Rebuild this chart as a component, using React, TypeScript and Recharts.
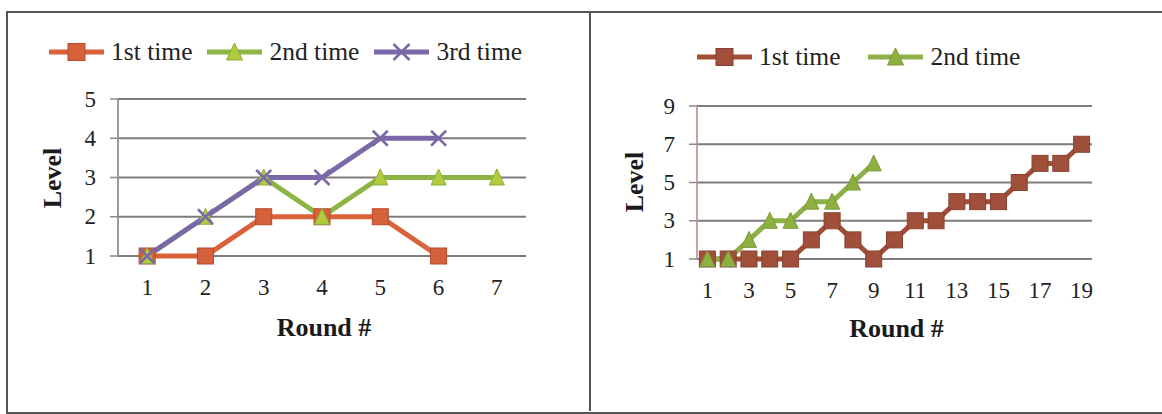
import React from "react";
import { LineChart, Line, XAxis, YAxis, CartesianGrid, Legend } from "recharts";

// ---------- data: left chart ----------
const leftRounds = [1, 2, 3, 4, 5, 6, 7];
const left1st = [1, 1, 2, 2, 2, 1, null];
const left2nd = [1, 2, 3, 2, 3, 3, 3];
const left3rd = [1, 2, 3, 3, 4, 4, null];
const leftLevelTicks = [1, 2, 3, 4, 5];
const leftRoundTicks = [1, 2, 3, 4, 5, 6, 7];

// ---------- data: right chart ----------
const rightRounds = [1, 2, 3, 4, 5, 6, 7, 8, 9, 10, 11, 12, 13, 14, 15, 16, 17, 18, 19];
const right1st = [1, 1, 1, 1, 1, 2, 3, 2, 1, 2, 3, 3, 4, 4, 4, 5, 6, 6, 7];
const right2nd = [1, 1, 2, 3, 3, 4, 4, 5, 6, null, null, null, null, null, null, null, null, null, null];
const rightLevelTicks = [1, 3, 5, 7, 9];
const rightRoundTicks = [1, 3, 5, 7, 9, 11, 13, 15, 17, 19];

const leftData = leftRounds.map((r, i) => ({ round: r, t1: left1st[i], t2: left2nd[i], t3: left3rd[i] }));
const rightData = rightRounds.map((r, i) => ({ round: r, t1: right1st[i], t2: right2nd[i] }));

const SERIF = "'Liberation Serif', 'Times New Roman', serif";
const GRID = "#7c7c7c";

type MarkerKind = "square" | "triangle" | "cross";

function Marker({ kind, cx, cy, fill, stroke, size }: any) {
  if (cx == null || cy == null || isNaN(cy)) return <g />;
  const h = size / 2;
  if (kind === "square")
    return <rect x={cx - h} y={cy - h} width={size} height={size} fill={fill} stroke={stroke} strokeWidth={1} />;
  if (kind === "triangle")
    return (
      <polygon
        points={`${cx},${cy - h - 1} ${cx - h},${cy + h} ${cx + h},${cy + h}`}
        fill={fill}
        stroke={stroke}
        strokeWidth={1}
      />
    );
  return (
    <g stroke={stroke} strokeWidth={2.5}>
      <line x1={cx - h} y1={cy - h} x2={cx + h} y2={cy + h} />
      <line x1={cx - h} y1={cy + h} x2={cx + h} y2={cy - h} />
    </g>
  );
}

const makeDot = (kind: MarkerKind, fill: string, stroke: string, size: number) => (p: any) => (
  <Marker key={`d-${kind}-${p.index}`} kind={kind} cx={p.cx} cy={p.cy} fill={fill} stroke={stroke} size={size} />
);

type SeriesCfg = { key: string; name: string; color: string; fill: string; edge: string; kind: MarkerKind; size: number };

const leftSeries: SeriesCfg[] = [
  { key: "t1", name: "1st time", color: "#D9623A", fill: "#D5603C", edge: "#B84A2C", kind: "square", size: 16 },
  { key: "t2", name: "2nd time", color: "#8DB545", fill: "#B2CC3E", edge: "#86AE3C", kind: "triangle", size: 15 },
  { key: "t3", name: "3rd time", color: "#7B68A8", fill: "#7B68A8", edge: "#6E5C9C", kind: "cross", size: 15 },
];
const rightSeries: SeriesCfg[] = [
  { key: "t1", name: "1st time", color: "#A34F37", fill: "#A0503A", edge: "#8A4030", kind: "square", size: 16 },
  { key: "t2", name: "2nd time", color: "#8EB048", fill: "#8DB040", edge: "#7A9A38", kind: "triangle", size: 15 },
];

const makeLegend = (series: SeriesCfg[], gap: number) => () => (
  <div style={{ display: "flex", alignItems: "center", fontFamily: SERIF, fontSize: 25.5, color: "#222", whiteSpace: "nowrap" }}>
    {series.map((s, i) => (
      <div key={s.key} style={{ display: "flex", alignItems: "center", marginLeft: i === 0 ? 0 : gap }}>
        <svg width={57} height={22} style={{ display: "block" }}>
          <line x1={1} y1={11} x2={56} y2={11} stroke={s.color} strokeWidth={5} />
          <Marker kind={s.kind} cx={28.5} cy={11} fill={s.fill} stroke={s.kind === "cross" ? s.color : s.edge} size={s.size + 1} />
        </svg>
        <span style={{ marginLeft: 6, lineHeight: "28px" }}>{s.name}</span>
      </div>
    ))}
  </div>
);

const yTitle = (cx: number, cyAbs: number) => (props: any) => {
  const vb = props.viewBox || {};
  const x = (vb.x || 0) + cx;
  const y = cyAbs;
  return (
    <text
      x={x}
      y={y}
      transform={`rotate(-90, ${x}, ${y})`}
      textAnchor="middle"
      dominantBaseline="central"
      fontFamily={SERIF}
      fontWeight="bold"
      fontSize={26}
      fill="#1a1a1a"
    >
      Level
    </text>
  );
};

const xTitle = (dy: number, dx: number) => (props: any) => {
  const vb = props.viewBox || {};
  return (
    <text
      x={vb.x + vb.width / 2 + dx}
      y={vb.y + dy}
      textAnchor="middle"
      fontFamily={SERIF}
      fontWeight="bold"
      fontSize={26}
      fill="#1a1a1a"
    >
      Round #
    </text>
  );
};

// custom tick renderers (text only)
const XTick = (p: any) => (
  <text
    x={p.x}
    y={p.y + 1}
    textAnchor="middle"
    dominantBaseline="hanging"
    fontFamily={SERIF}
    fontSize={23}
    fill="#222"
  >
    {p.payload.value}
  </text>
);
const YTick = (p: any) => (
  <text x={p.x} y={p.y} textAnchor="end" dominantBaseline="central" fontFamily={SERIF} fontSize={23} fill="#222">
    {p.payload.value}
  </text>
);

function Panel(props: {
  data: any[];
  series: SeriesCfg[];
  width: number;
  margin: any;
  yWidth: number;
  levels: number[];
  rounds: number[];
  roundTicks: number[];
  yAxisColor: string;
  legendPos: { left: number; top: number };
  legendGap: number;
  yTitleX: number;
  yTitleY: number;
  xTitleDy: number;
}) {
  const n = props.rounds.length;
  const bounds = [props.rounds[0] - 0.5, ...props.rounds.map((r) => r + 0.5)];
  const dom = [props.rounds[0] - 0.5, props.rounds[n - 1] + 0.5];
  const yDom = [props.levels[0], props.levels[props.levels.length - 1]];
  return (
    <LineChart width={props.width} height={414} data={props.data} margin={props.margin}>
      <CartesianGrid vertical={false} stroke={GRID} strokeWidth={2} />
      <XAxis
        xAxisId="bnd"
        dataKey="round"
        type="number"
        domain={dom}
        ticks={bounds}
        tickFormatter={() => ""}
        height={0}
        axisLine={{ stroke: GRID, strokeWidth: 2 }}
        tickLine={{ stroke: "#8a8a8a", strokeWidth: 1.5 }}
        tickSize={6}
        allowDataOverflow
        interval={0}
      />
      <XAxis
        xAxisId="lab"
        dataKey="round"
        type="number"
        domain={dom}
        ticks={props.roundTicks}
        interval={0}
        axisLine={false}
        tickLine={false}
        tickSize={0}
        tickMargin={22}
        height={100}
        tick={<XTick />}
        allowDataOverflow
        label={{ content: xTitle(props.xTitleDy, 2) }}
      />
      <YAxis
        type="number"
        domain={yDom}
        ticks={props.levels}
        interval={0}
        width={props.yWidth}
        axisLine={{ stroke: props.yAxisColor, strokeWidth: 2 }}
        tickLine={{ stroke: "#8a8a8a", strokeWidth: 1.5 }}
        tickSize={8}
        tickMargin={14}
        tick={<YTick />}
        label={{ content: yTitle(props.yTitleX, props.yTitleY) }}
      />
      <Legend
        layout="horizontal"
        verticalAlign="middle"
        align="center"
        content={makeLegend(props.series, props.legendGap)}
        wrapperStyle={{ position: "absolute", left: props.legendPos.left, top: props.legendPos.top, width: "auto" }}
      />
      {props.series.map((s) => (
        <Line
          key={s.key}
          xAxisId="lab"
          dataKey={s.key}
          name={s.name}
          stroke={s.color}
          strokeWidth={5}
          dot={makeDot(s.kind, s.fill, s.kind === "cross" ? s.color : s.edge, s.size)}
          activeDot={false}
          isAnimationActive={false}
          connectNulls={false}
        />
      ))}
    </LineChart>
  );
}

export default function App() {
  return (
    <div style={{ position: "absolute", left: 0, top: 0, width: 1162, height: 414, background: "#fff", overflow: "hidden" }}>
      <div
        style={{
          position: "absolute",
          left: 6,
          top: 11,
          width: 1162,
          height: 399,
          borderTop: "2px solid #555",
          borderLeft: "2px solid #555",
          borderBottom: "2px solid #555",
        }}
      />
      <div style={{ position: "absolute", left: 589, top: 12, width: 2, height: 399, background: "#555" }} />
      <div style={{ position: "absolute", left: 0, top: 0 }}>
        <Panel
          data={leftData}
          series={leftSeries}
          width={590}
          margin={{ top: 99, right: 64, bottom: 58, left: 0 }}
          yWidth={118}
          levels={leftLevelTicks}
          rounds={leftRounds}
          roundTicks={leftRoundTicks}
          yAxisColor="#9a9a9a"
          legendPos={{ left: 48, top: 38 }}
          legendGap={14}
          yTitleX={52}
          yTitleY={178}
          xTitleDy={80}
        />
      </div>
      <div style={{ position: "absolute", left: 590, top: 0 }}>
        <Panel
          data={rightData}
          series={rightSeries}
          width={572}
          margin={{ top: 106, right: 70, bottom: 55, left: 0 }}
          yWidth={107}
          levels={rightLevelTicks}
          rounds={rightRounds}
          roundTicks={rightRoundTicks}
          yAxisColor="#c9a49c"
          legendPos={{ left: 106, top: 43 }}
          legendGap={27}
          yTitleX={44}
          yTitleY={182}
          xTitleDy={78}
        />
      </div>
    </div>
  );
}
